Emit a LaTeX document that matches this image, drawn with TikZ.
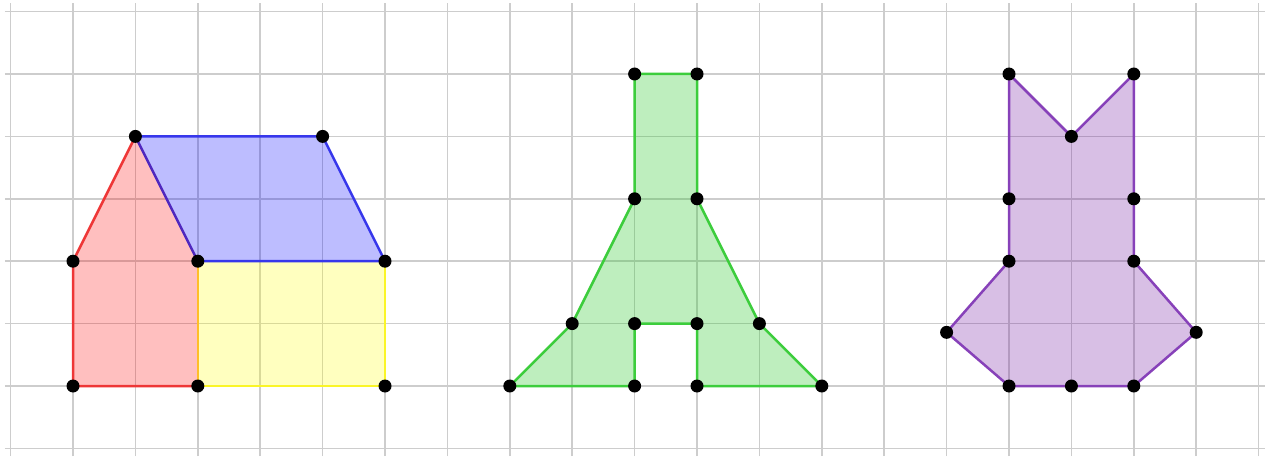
\documentclass[tikz,border=0pt]{standalone}
\definecolor{gridc}{RGB}{205,205,205}
\definecolor{rstroke}{RGB}{238,55,55}
\definecolor{bstroke}{RGB}{55,55,235}
\definecolor{ystroke}{RGB}{250,245,40}
\definecolor{ostroke}{RGB}{255,190,40}
\definecolor{bvstroke}{RGB}{80,40,190}
\definecolor{gstroke}{RGB}{60,205,60}
\definecolor{pstroke}{RGB}{135,65,185}
\definecolor{rfill}{RGB}{255,0,0}
\definecolor{bfill}{RGB}{0,0,255}
\definecolor{yfill}{RGB}{255,255,0}
\definecolor{gfill}{RGB}{40,200,40}
\definecolor{pfill}{RGB}{110,20,160}
\tikzset{
  gridline/.style={draw=gridc, line width=0.75pt},
  shapeedge/.style={line width=1.25pt, line join=round},
  vdot/.style={circle, fill=black, inner sep=0pt, minimum size=6.5pt},
}
\begin{document}
\begin{tikzpicture}[x=31.2pt,y=31.2pt]
\useasboundingbox (-1.1699,-1.1218) rectangle (19.1026,6.1859);
% grid
\foreach \i in {-1,...,19} \draw[gridline] (\i,-1.1218) -- (\i,6.138);
\foreach \j in {-1,...,6} \draw[gridline] (-1.09,\j) -- (19.1026,\j);
% house
\fill[rfill, fill opacity=0.25] (0,0) -- (2,0) -- (2,2) -- (1,4) -- (0,2) -- cycle;
\fill[yfill, fill opacity=0.25] (2,0) -- (5,0) -- (5,2) -- (2,2) -- cycle;
\fill[bfill, fill opacity=0.26] (1,4) -- (4,4) -- (5,2) -- (2,2) -- cycle;
\draw[shapeedge, rstroke] (2,0) -- (0,0) -- (0,2) -- (1,4);
\draw[shapeedge, ystroke] (2,0) -- (5,0) -- (5,2);
\draw[shapeedge, ostroke] (2,0) -- (2,2);
\draw[shapeedge, bstroke] (1,4) -- (4,4) -- (5,2) -- (2,2);
\draw[shapeedge, bvstroke] (1,4) -- (2,2);
% green
\filldraw[shapeedge, draw=gstroke, fill=gfill, fill opacity=0.3]
  (7,0) -- (9,0) -- (9,1) -- (10,1) -- (10,0) -- (12,0) -- (11,1) -- (10,3) -- (10,5) -- (9,5) -- (9,3) -- (8,1) -- cycle;
% purple
\filldraw[shapeedge, draw=pstroke, fill=pfill, fill opacity=0.27]
  (15,5) -- (16,4) -- (17,5) -- (17,3) -- (17,2) -- (18,0.86) -- (17,0) -- (16,0) -- (15,0) -- (14,0.86) -- (15,2) -- (15,3) -- cycle;
% vertices
\foreach \p [count=\k] in {(0,0),(2,0),(5,0),(0,2),(2,2),(5,2),(1,4),(4,4),
  (7,0),(9,0),(10,0),(12,0),(8,1),(9,1),(10,1),(11,1),(9,3),(10,3),(9,5),(10,5),
  (15,5),(16,4),(17,5),(15,3),(17,3),(15,2),(17,2),(14,0.86),(18,0.86),(15,0),(16,0),(17,0)}
  \node[vdot] (v\k) at \p {};
\end{tikzpicture}
\end{document}
